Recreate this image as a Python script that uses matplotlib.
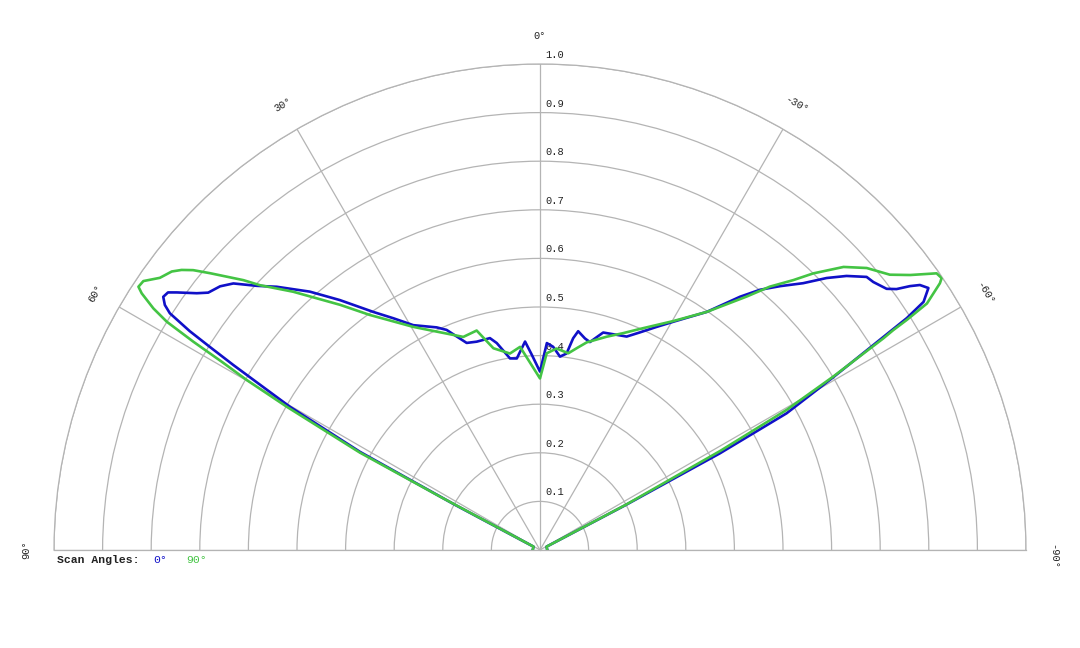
import numpy as np
import matplotlib.pyplot as plt
from matplotlib.transforms import offset_copy

# scan angle 0 deg (blue), angle in degrees, relative intensity
ang_0 = [-90, -63, -62.3, -61.75, -61.0, -59.5, -57.7, -57.1, -56.0, -55.1, -54.5, -53.8,
         -53.0, -51.2, -50.1, -48.2, -46.5, -44.6, -42.3, -40.2, -38.3, -35.0, -30.3,
         -27.6, -24.7, -22.1, -19.6, -16.2, -13.5, -12.0, -9.9, -8.9, -7.7, -5.9, -3.7,
         -1.9, 0, 2.4, 4.1, 6.9, 8.9, 11.8, 13.3, 16.9, 19.5, 23.0, 24.9, 29.4, 32.3,
         35.0, 38.7, 41.7, 45.0, 47.0, 49.0, 50.5, 52.2, 53.2, 54.65, 55.3, 56.1, 56.85,
         57.4, 58.0, 58.4, 58.9, 60.2, 61.4, 62.0, 62.6, 90]
r_0 = [0.015, 0.015, 0.2, 0.42, 0.58, 0.70, 0.893, 0.94, 0.964, 0.953, 0.935, 0.909,
       0.893, 0.88, 0.876, 0.846, 0.813, 0.771, 0.734, 0.701, 0.664, 0.598, 0.544,
       0.518, 0.493, 0.474, 0.47, 0.466, 0.44, 0.445, 0.457, 0.441, 0.408, 0.40, 0.419,
       0.426, 0.367, 0.402, 0.43, 0.397, 0.399, 0.435, 0.448, 0.448, 0.452, 0.492, 0.505,
       0.531, 0.564, 0.598, 0.659, 0.712, 0.766, 0.797, 0.836, 0.853, 0.864, 0.882, 0.916,
       0.931, 0.934, 0.922, 0.904, 0.85, 0.798, 0.737, 0.593, 0.422, 0.2, 0.015, 0.015]

# scan angle 90 deg (green)
ang_90 = [-90, -63, -62.2, -61.2, -60.4, -59.4, -58.35, -58.1, -57.9, -57.5, -56.3, -55.9,
          -55.1, -53.4, -51.8, -49.2, -47.0, -44.65, -43.2, -41.1, -39.2, -35.0, -30.2,
          -24.3, -21.0, -17.4, -12.7, -10.3, -8.2, -4.7, -1.95, 0, 5.6, 8.7, 13.0, 16.1,
          19.8, 25.3, 29.6, 35.9, 39.2, 43.7, 46.6, 47.7, 50.0, 51.1, 52.0, 52.9, 54.4,
          55.86, 56.75, 57.2, 58.0, 58.55, 59.0, 59.4, 59.9, 60.5, 61.6, 61.9, 62.4, 90]
r_90 = [0.015, 0.015, 0.2, 0.423, 0.584, 0.701, 0.83, 0.856, 0.891, 0.944, 0.989, 0.998,
        0.995, 0.949, 0.916, 0.888, 0.854, 0.80, 0.762, 0.719, 0.673, 0.598, 0.545,
        0.499, 0.478, 0.46, 0.438, 0.422, 0.409, 0.416, 0.405, 0.353, 0.42, 0.409, 0.426,
        0.47, 0.466, 0.497, 0.528, 0.597, 0.651, 0.735, 0.793, 0.825, 0.886, 0.917, 0.936,
        0.95, 0.962, 0.986, 0.988, 0.975, 0.938, 0.90, 0.832, 0.76, 0.698, 0.599, 0.421,
        0.226, 0.015, 0.015]

ring_vals = [0.1, 0.2, 0.3, 0.4, 0.5, 0.6, 0.7, 0.8, 0.9, 1.0]
spoke_angles = [-90, -60, -30, 0, 30, 60, 90]

grid_col = '#b4b4b4'
blue = '#1010c8'
green = '#44c444'
mono = 'Liberation Mono'

fig = plt.figure(figsize=(10.8, 6.48), dpi=100)
# half-polar axes keeps a square box; wedge is centred vertically inside it
ax = fig.add_axes([54/1080, -145/648, 972/1080, 972/648], projection='polar')
ax.set_theta_zero_location('N')
ax.set_theta_direction(1)
ax.set_thetamin(-90)
ax.set_thetamax(90)
ax.set_ylim(0, 1)

ax.set_rgrids(ring_vals)
ax.set_thetagrids(spoke_angles)
ax.set_xticklabels([])
ax.set_yticklabels([])
ax.grid(True, color=grid_col, lw=0.9)
for sp in ax.spines.values():
    sp.set_color(grid_col)
    sp.set_linewidth(0.9)

# radial labels, under the curves
off = offset_copy(ax.transData, fig=fig, x=5, y=4, units='dots')
for v in ring_vals:
    ax.text(0, v, '%.1f' % v, transform=off, ha='left', va='bottom',
            family=mono, fontsize=7.5, color='#222222', zorder=1)

# angle labels
for a in spoke_angles:
    dy = -7 if a == -90 else 0
    tr = offset_copy(ax.transData, fig=fig, x=0, y=dy, units='dots')
    ax.text(np.radians(a), 1.057, '%d°' % a, transform=tr, rotation=a,
            rotation_mode='anchor', ha='center', va='center',
            family=mono, fontsize=7.5, color='#222222')

ax.plot(np.radians(ang_0), r_0, color=blue, lw=1.9, zorder=3)
ax.plot(np.radians(ang_90), r_90, color=green, lw=1.9, zorder=4)

# legend
yl = (648 - 560) / 648
fig.text(57/1080, yl, 'Scan Angles:', family=mono, fontweight='bold', fontsize=8.2,
         ha='left', va='center', color='#222222')
fig.text(153/1080, yl, '0°', family=mono, fontsize=8.2, ha='left', va='center', color=blue)
fig.text(186/1080, yl, '90°', family=mono, fontsize=8.2, ha='left', va='center', color=green)

fig.savefig('out.png', dpi=100, facecolor='white')
